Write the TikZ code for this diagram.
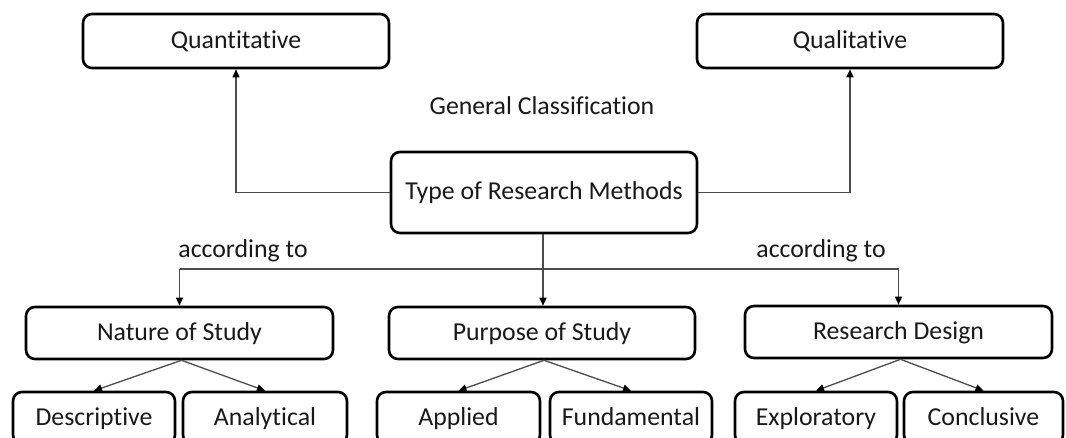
\documentclass[tikz,border=0pt]{standalone}
\usepackage{fontspec}
\setmainfont{Carlito}[Ligatures={NoCommon,NoContextual}]
\usetikzlibrary{arrows.meta}
\begin{document}
\begin{tikzpicture}[x=1pt,y=-1pt,
  every node/.style={font=\fontsize{25.8}{30}\selectfont, text=black!90,
    text height=18.5pt, text depth=3.5pt},
  box/.style={draw=black, line width=2.6pt, rounded corners=9pt,
    minimum height=52pt, inner sep=0pt, anchor=center},
  conn/.style={draw=black!70, line width=1.3pt},
  arr/.style={conn, -{Triangle[length=8pt,width=7pt,fill=black,color=black]}}]
\useasboundingbox (0,0) rectangle (1066,438);
\clip (0,0) rectangle (1066,438);
\fill[white] (0,0) rectangle (1066,438);

% top level
\node[box, minimum width=306pt, minimum height=54pt] (quant) at (236,41) {Quantitative};
\node[box, minimum width=306pt, minimum height=54pt] (qual) at (850,41) {Qualitative};
\node (general) at (542,107) {General Classification};
\node[box, minimum width=306pt, minimum height=81pt] (type) at (544,192.5) {Type of Research Methods};

% second level
\node[box, minimum width=307pt] (nature) at (179.5,333) {Nature of Study};
\node[box, minimum width=306pt] (purpose) at (542,333) {Purpose of Study};
\node[box, minimum width=307pt] (design) at (898.5,332) {Research Design};
\node (acc1) at (243,250) {according to};
\node (acc2) at (821,250) {according to};

% leaves (cut by the lower edge)
\node[box, minimum width=162pt] (desc) at (94,418) {Descriptive};
\node[box, minimum width=164pt] (anal) at (265,418) {Analytical};
\node[box, minimum width=163pt] (appl) at (458.5,418) {Applied};
\node[box, minimum width=162pt] (fund) at (631,418) {Fundamental};
\node[box, minimum width=162pt] (expl) at (816,418) {Exploratory};
\node[box, minimum width=159pt] (concl) at (983.5,418) {Conclusive};

% general classification
\draw[arr] (type.west) -| (quant.south);
\draw[arr] (type.east) -| (qual.south);

% bus under the central box
\coordinate (busM) at ([xshift=-1pt]type.south |- 0,269);
\coordinate (busL) at (nature.north |- busM);
\coordinate (busR) at (design.north |- busM);
\coordinate (purpIn) at (purpose.north -| busM);
\draw[conn] ([xshift=-1pt]type.south) -- (busM);
\draw[conn] (busL) -- (busR);
\draw[arr] (busL) -- (nature.north);
\draw[arr] (busM) -- (purpIn);
\draw[arr] (busR) -- (design.north);

% fans to the leaves
\foreach \p/\a/\b in {nature/desc/anal, purpose/appl/fund, design/expl/concl}{
  \draw[arr] ([xshift=2pt]\p.south) -- (\a.north);
  \draw[arr] ([xshift=2pt]\p.south) -- (\b.north);
}
\end{tikzpicture}
\end{document}
